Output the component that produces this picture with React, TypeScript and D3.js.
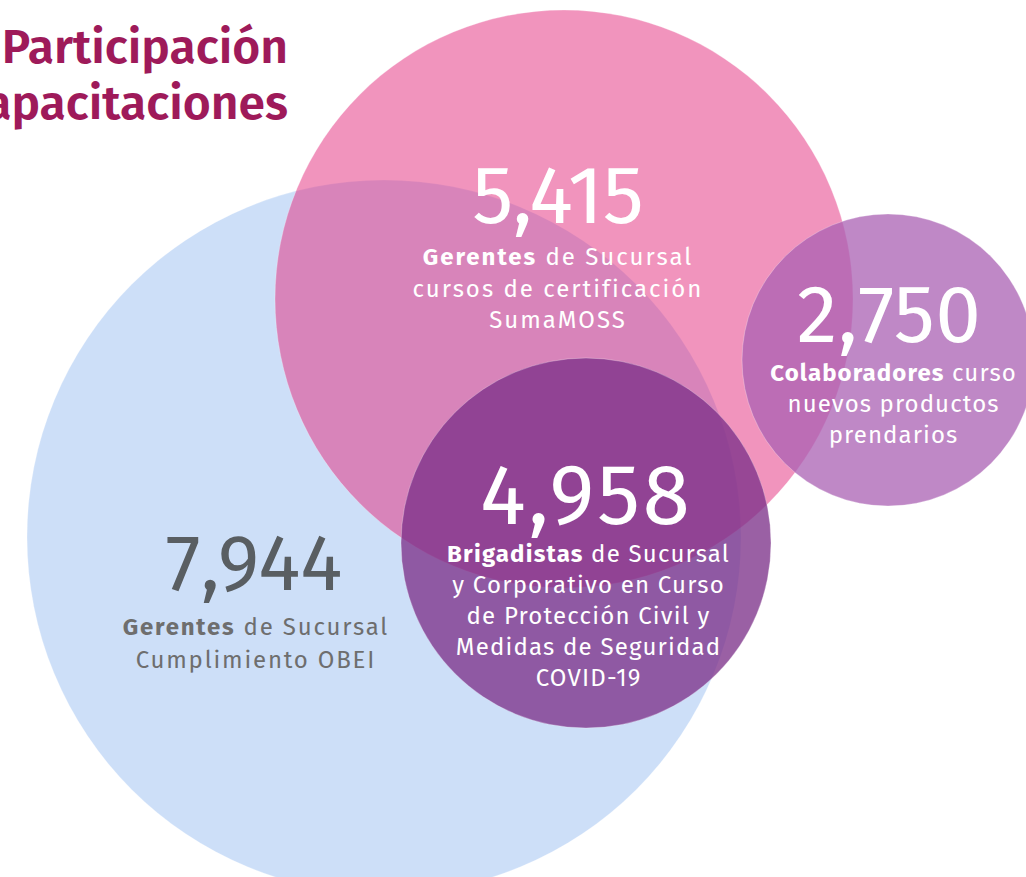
import React, { useEffect, useRef } from "react";
import * as d3 from "d3";

// ---- Data ----
const titleLines = ["Participación", "capacitaciones"];
const values = [7944, 5415, 4958, 2750];
const boldWords = ["Gerentes", "Gerentes", "Brigadistas", "Colaboradores"];
const labelLines: string[][] = [
  [" de Sucursal", "Cumplimiento OBEI"],
  [" de Sucursal", "cursos de certificación", "SumaMOSS"],
  [" de Sucursal", "y Corporativo en Curso", "de Protección Civil y", "Medidas de Seguridad", "COVID-19"],
  [" curso", "nuevos productos", "prendarios"],
];

// ---- Layout (positions / sizes / styles) ----
const W = 1026;
const H = 877;
const circles = [
  { cx: 384, cy: 537, r: 357, fill: "#cddff8", opacity: 1 },
  { cx: 564, cy: 299, r: 289, fill: "#e3297b", opacity: 0.5 },
  { cx: 586, cy: 543, r: 185, fill: "#7b3088", opacity: 0.77 },
  { cx: 888, cy: 360, r: 146, fill: "#a960b3", opacity: 0.75 },
];
const textLayout = [
  { x: 255, numX: 254, numY: 590, numSize: 79, numLs: 0, labelY: 635, lh: 33, ls: 1.8, numColor: "#595e62", labelColor: "#6e6e6e" },
  { x: 557, numX: 558, numY: 223, numSize: 82, numLs: -0.5, labelY: 265, lh: 31.5, ls: 2.0, numColor: "#ffffff", labelColor: "#ffffff" },
  { x: 588, numX: 585, numY: 524, numSize: 86, numLs: 2.5, labelY: 562, lh: 31, ls: 1.2, numColor: "#ffffff", labelColor: "#ffffff" },
  { x: 893, numX: 889, numY: 342, numSize: 82, numLs: 0.5, labelY: 381, lh: 31, ls: 1.1, numColor: "#ffffff", labelColor: "#ffffff" },
];
const FONT = "'Fira Sans', 'Open Sans', 'Noto Sans', sans-serif";

export default function App() {
  const ref = useRef<SVGSVGElement | null>(null);

  useEffect(() => {
    const svg = d3.select(ref.current);
    svg.selectAll("*").remove();
    const fmt = d3.format(",");

    // Title
    const title = svg
      .append("text")
      .attr("text-anchor", "end")
      .attr("font-family", FONT)
      .attr("font-weight", 600)
      .attr("font-size", 48)
      .attr("fill", "#9e1a5a");
    title.selectAll("tspan")
      .data(titleLines)
      .join("tspan")
      .attr("x", 288)
      .attr("y", (_, i) => 63 + i * 56)
      .text((d) => d);

    // Circles
    svg
      .append("g")
      .selectAll("circle")
      .data(circles)
      .join("circle")
      .attr("cx", (d) => d.cx)
      .attr("cy", (d) => d.cy)
      .attr("r", (d) => d.r)
      .attr("fill", (d) => d.fill)
      .attr("fill-opacity", (d) => d.opacity)
      .attr("stroke", "#ffffff")
      .attr("stroke-opacity", 0.35)
      .attr("stroke-width", 0.8);

    // Labels
    const groups = svg
      .append("g")
      .selectAll("g")
      .data(values.map((v, i) => ({ v, i })))
      .join("g");

    groups
      .append("text")
      .attr("x", (d) => textLayout[d.i].numX + textLayout[d.i].numLs / 2)
      .attr("y", (d) => textLayout[d.i].numY)
      .attr("text-anchor", "middle")
      .attr("font-family", FONT)
      .attr("font-weight", 400)
      .attr("font-size", (d) => textLayout[d.i].numSize)
      .attr("letter-spacing", (d) => textLayout[d.i].numLs)
      .attr("fill", (d) => textLayout[d.i].numColor)
      .text((d) => fmt(d.v));

    groups.each(function (d) {
      const g = d3.select(this);
      const L = textLayout[d.i];
      const t = g
        .append("text")
        .attr("text-anchor", "middle")
        .attr("font-family", FONT)
        .attr("font-size", 24)
        .attr("letter-spacing", L.ls)
        .attr("fill", L.labelColor);
      const lx = L.x + L.ls / 2;
      labelLines[d.i].forEach((line, j) => {
        if (j === 0) {
          const first = t.append("tspan").attr("x", lx).attr("y", L.labelY);
          first.append("tspan").attr("font-weight", 700).text(boldWords[d.i]);
          first.append("tspan").text(line);
        } else {
          t.append("tspan")
            .attr("x", lx)
            .attr("y", L.labelY + j * L.lh)
            .text(line);
        }
      });
    });
  }, []);

  return (
    <svg
      ref={ref}
      width={W}
      height={H}
      style={{ position: "absolute", left: 0, top: 0, background: "#ffffff" }}
    />
  );
}
